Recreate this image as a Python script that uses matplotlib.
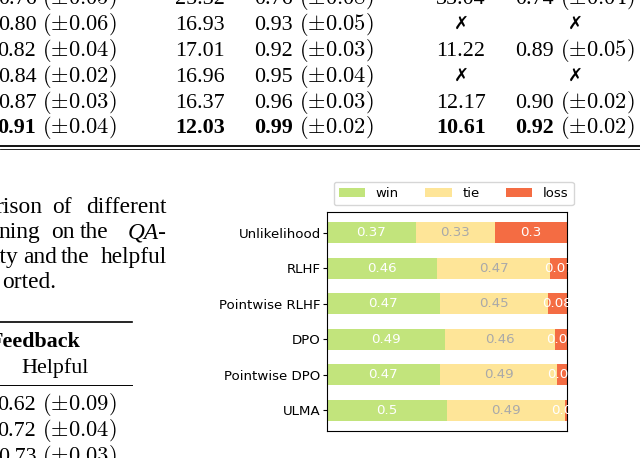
import numpy as np
import matplotlib
matplotlib.use('Agg')
import matplotlib.pyplot as plt
from matplotlib.lines import Line2D

plt.rcParams['mathtext.fontset'] = 'cm'

# ── data: win / tie / loss chart ──────────────────────────────────────────
methods = ['Unlikelihood', 'RLHF', 'Pointwise RLHF', 'DPO', 'Pointwise DPO', 'ULMA']
outcomes = ['win', 'tie', 'loss']
win  = [0.37, 0.46, 0.47, 0.49, 0.47, 0.50]
tie  = [0.33, 0.47, 0.45, 0.46, 0.49, 0.49]
loss = [0.30, 0.07, 0.08, 0.05, 0.04, 0.01]
colors = ['#c2e47c', '#fee598', '#f46c43']

# ── data: table fragments around the chart ────────────────────────────────
# each cell: (value, std or None); None value means a cross mark
tab_col1 = [('0.76', '0.05'), ('0.80', '0.06'), ('0.82', '0.04'), ('0.84', '0.02'),
            ('0.87', '0.03'), ('0.91', '0.04')]
tab_col2 = [('25.32', None), ('16.93', None), ('17.01', None), ('16.96', None),
            ('16.37', None), ('12.03', None)]
tab_col3 = [('0.76', '0.08'), ('0.93', '0.05'), ('0.92', '0.03'), ('0.95', '0.04'),
            ('0.96', '0.03'), ('0.99', '0.02')]
tab_col4 = [('35.04', None), (None, None), ('11.22', None), (None, None),
            ('12.17', None), ('10.61', None)]
tab_col5 = [('0.74', '0.04'), (None, None), ('0.89', '0.05'), (None, None),
            ('0.90', '0.02'), ('0.92', '0.02')]
bold_row = 5
helpful = [('0.62', '0.09'), ('0.72', '0.04'), ('0.73', '0.03')]

W, H = 640, 458
fig = plt.figure(figsize=(W / 100, H / 100), dpi=100)
renderer = fig.canvas.get_renderer()
SERIF = ['Liberation Serif']
FS = 15.8

def px(x, y):
    return x / W, 1 - y / H

def put(x, y, s, ha='center', size=FS, family=SERIF, **kw):
    return fig.text(*px(x, y), s, ha=ha, va='baseline', fontsize=size,
                    family=family, **kw)

def cell(x, y, val, sd, ha='center', bold=False):
    if val is None:
        put(x, y - 1, '✗', size=13, family=['DejaVu Sans'])
        return
    t1 = put(0, y, val, ha='left', fontweight='bold' if bold else 'normal')
    parts = [t1]
    if sd is not None:
        t2 = put(0, y, r'$(\pm' + sd + ')$', ha='left', size=16.2)
        parts.append(t2)
    widths = [p.get_window_extent(renderer).width for p in parts]
    gap = 6
    total = sum(widths) + gap * (len(parts) - 1)
    x0 = x - total / 2 if ha == 'center' else x - total
    for p, w in zip(parts, widths):
        p.set_x(x0 / W)
        x0 += w + gap

def hline(x0, x1, y, lw):
    fig.add_artist(Line2D([x0 / W, x1 / W], [1 - y / H] * 2, color='black', lw=lw))

# ── top table rows ────────────────────────────────────────────────────────
baselines = [4.5, 30, 56, 82, 108, 133.5]
for i, b in enumerate(baselines):
    bold = i == bold_row
    cell(117, b, *tab_col1[i], ha='right', bold=bold)
    cell(200, b, *tab_col2[i], bold=bold)
    cell(314, b, *tab_col3[i], bold=bold)
    cell(461, b, *tab_col4[i], bold=bold)
    cell(575, b, *tab_col5[i], bold=bold)
hline(0, W, 146, 1.3)
hline(0, W, 149, 0.6)

# ── caption (left, clipped, justified) ────────────────────────────────────
cs = 16.8
put(42, 213, 'rison', ha='right', size=cs)
put(52, 213, 'of', ha='left', size=cs)
put(167, 213, 'different', ha='right', size=cs)
put(40, 238, 'ning', ha='right', size=cs)
put(51, 238, 'on', ha='left', size=cs)
put(80, 238, 'the', ha='left', size=cs)
put(167, 238, 'QA-', ha='right', size=cs, fontstyle='italic')
put(18, 263, 'ity', ha='right', size=cs)
put(23, 263, 'and', ha='left', size=cs)
put(61, 263, 'the', ha='left', size=cs)
put(167, 263, 'helpful', ha='right', size=cs)
put(2, 288, 'orted.', ha='left', size=cs)

# ── lower-left table ──────────────────────────────────────────────────────
hline(0, 132, 322, 1.2)
put(80, 347, 'Feedback', ha='right', fontweight='bold')
put(55, 373, 'Helpful')
hline(0, 132, 385, 0.7)
for (v, sd), b in zip(helpful, [410.5, 436.5, 462.5]):
    cell(117, b, v, sd, ha='right')

# ── stacked horizontal bar chart ──────────────────────────────────────────
ax = fig.add_axes([327 / W, 1 - 431 / H, 240 / W, 219 / H])
data = np.array([win, tie, loss]).T
starts = np.zeros(len(methods))
for j, name in enumerate(outcomes):
    widths = data[:, j]
    rects = ax.barh(methods, widths, left=starts, height=0.6,
                    color=colors[j], label=name)
    r, g, b, _ = matplotlib.colors.to_rgba(colors[j])
    tc = 'white' if r * g * b < 0.5 else 'darkgrey'
    labels = ax.bar_label(rects, label_type='center', color=tc, fontsize=9.6)
    for t in labels:
        t.set_clip_on(True)
    starts += widths

ax.invert_yaxis()
ax.xaxis.set_visible(False)
ax.set_xlim(0, data.sum(axis=1).max())
ax.tick_params(axis='y', labelsize=9.6, length=3, pad=1.5)
ax.legend(ncols=3, bbox_to_anchor=(0, 1), loc='lower left', fontsize=9.5)

fig.savefig('out.png', dpi=100)
